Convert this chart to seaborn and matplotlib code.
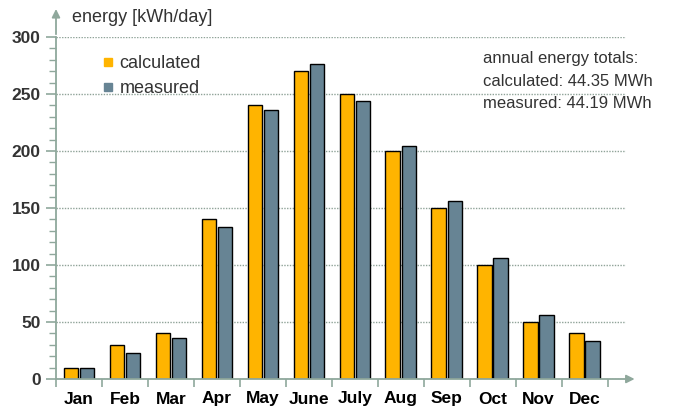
import matplotlib

matplotlib.use("Agg")
import matplotlib.pyplot as plt
import numpy as np
import pandas as pd
import seaborn as sns
from matplotlib.lines import Line2D

months = ["Jan", "Feb", "Mar", "Apr", "May", "June", "July", "Aug", "Sep", "Oct", "Nov", "Dec"]
calculated = [10, 30, 40, 140, 240, 270, 250, 200, 150, 100, 50, 40]
measured = [10, 23, 36, 133, 236, 276, 244, 204, 156, 106, 56, 33]
series = ["calculated", "measured"]
totals = {"calculated": "44.35 MWh", "measured": "44.19 MWh"}

ORANGE = "#FFB400"
SLATE = "#678494"
AXIS = "#8FA89C"
TEXT = "#333333"

df = pd.DataFrame({
    "month": months * 2,
    "energy": calculated + measured,
    "series": [series[0]] * 12 + [series[1]] * 12,
})

sns.set_theme(style="white")
plt.rcParams["font.family"] = ["Liberation Sans", "DejaVu Sans"]

fig = plt.figure(figsize=(6.81, 4.09), dpi=100)
ax = fig.add_axes([56 / 681, 30 / 409, (626 - 56) / 681, (379 - 37) / 409])

sns.barplot(
    data=df, x="month", y="energy", hue="series", order=months,
    palette=[ORANGE, SLATE], saturation=1, width=0.7, gap=0.1,
    edgecolor="black", linewidth=1.0, legend=False, ax=ax,
)

ax.set_xlim(-0.5, 11.9)
ax.set_ylim(0, 300)
ax.set_xlabel("")
ax.set_ylabel("")

for s in ["top", "right"]:
    ax.spines[s].set_visible(False)
for s in ["left", "bottom"]:
    ax.spines[s].set_color(AXIS)
    ax.spines[s].set_linewidth(1.3)

# arrows extending the axes
ax.annotate("", xy=(0, 1.09), xytext=(0, 1.0), xycoords="axes fraction",
            arrowprops=dict(arrowstyle="-|>", color=AXIS, lw=1.3, mutation_scale=12))
ax.annotate("", xy=(1.02, 0), xytext=(1.0, 0), xycoords="axes fraction",
            arrowprops=dict(arrowstyle="-|>", color=AXIS, lw=1.3, mutation_scale=12))

ax.set_yticks(np.arange(0, 301, 50))
ax.set_yticks(np.arange(0, 301, 10), minor=True)
ax.set_xticks(range(12))
ax.set_xticklabels(months)
ax.set_xticks(np.arange(-0.5, 12, 1), minor=True)
ax.tick_params(axis="y", which="major", left=True, length=7, width=1.2, color=AXIS,
               labelsize=12.5, labelcolor=TEXT, pad=4)
ax.tick_params(axis="y", which="minor", left=True, length=5, width=1.0, color=AXIS)
ax.tick_params(axis="x", which="major", bottom=False, length=0, labelsize=12.5,
               labelcolor="black", pad=9)
ax.tick_params(axis="x", which="minor", bottom=True, length=6, width=1.2, color=AXIS)
for lab in ax.get_yticklabels() + ax.get_xticklabels():
    lab.set_fontweight("bold")

ax.yaxis.grid(True, which="major", linestyle=(0, (1, 1)), color="#8FA398", linewidth=1.0)
ax.set_axisbelow(True)

fig.text(72 / 681, 1 - 18 / 409, "energy [kWh/day]", fontsize=13, color=TEXT,
         va="center", ha="left")

handles = [Line2D([], [], marker="s", linestyle="", markersize=6, color=c) for c in [ORANGE, SLATE]]
ax.legend(handles, series, loc="upper left", bbox_to_anchor=(0.05, 0.995), frameon=False,
          fontsize=13, handletextpad=0.25, labelspacing=0.45, handlelength=0.8,
          labelcolor=TEXT)

lines = ["annual energy totals:"] + [f"{k}: {v}" for k, v in totals.items()]
for i, line in enumerate(lines):
    fig.text(483 / 681, 1 - (58 + 23 * i) / 409, line, fontsize=12, color=TEXT,
             va="center", ha="left")

fig.savefig("out.png", dpi=100)
